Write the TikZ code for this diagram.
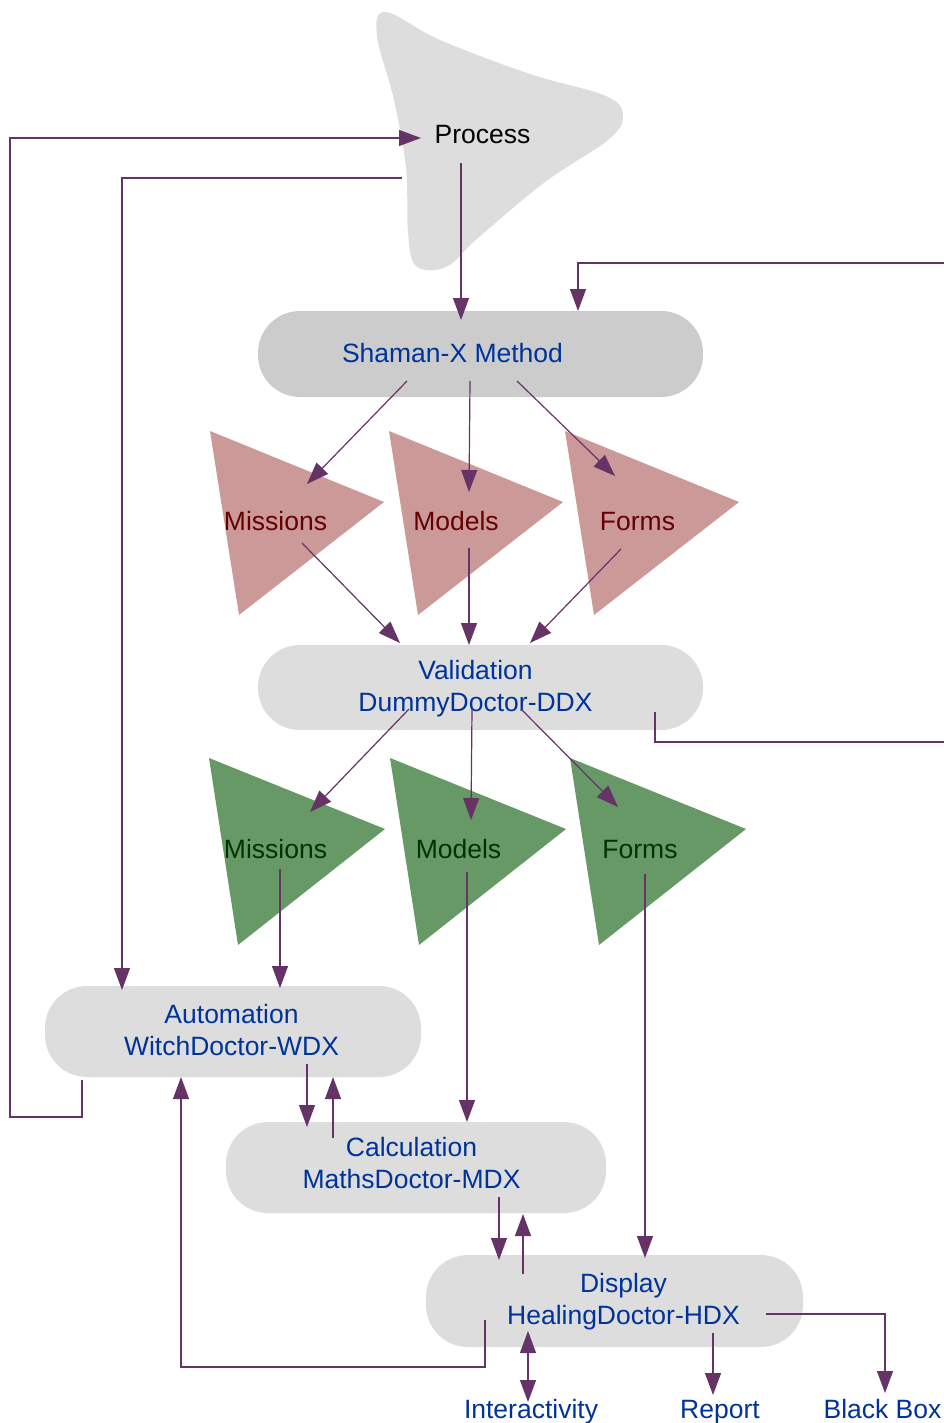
\documentclass[tikz,border=0pt]{standalone}
\usepackage{fontspec}
\setmainfont{Liberation Sans}
\usepackage{xcolor}
\usetikzlibrary{arrows.meta}

\definecolor{linkpurple}{HTML}{663366}
\definecolor{navytext}{HTML}{003399}
\definecolor{pinkfill}{HTML}{CC9999}
\definecolor{redtext}{HTML}{660000}
\definecolor{greenfill}{HTML}{669966}
\definecolor{greentext}{HTML}{003300}
\definecolor{pillgray}{HTML}{DDDDDD}
\definecolor{pilldark}{HTML}{CCCCCC}

\begin{document}
\begin{tikzpicture}[x=1pt, y=-1pt,
    pill/.style={rectangle, rounded corners=42pt, fill=pillgray, inner sep=0pt},
    lbl/.style={font=\fontsize{26.5}{32}\selectfont, text=navytext, align=center, inner sep=0pt},
    arrow/.style={draw=linkpurple, line width=1.2pt, -{Triangle[length=22pt, width=16pt]}},
    twoway/.style={arrow, {Triangle[length=22pt, width=16pt]}-{Triangle[length=22pt, width=16pt]}}]

    \useasboundingbox (0,0) rectangle (944,1423);
    \clip (0,0) rectangle (944,1423);

    % process blob
    \fill[pillgray] plot[smooth cycle, tension=0.6] coordinates {(386,12) (440,40) (530,74) (606,96) (623,116) (608,140) (545,182) (478,238) (446,267) (416,266) (408,232) (406,168) (394,100) (377,36)};
    \node[lbl, text=black, anchor=base] (process) at (482.5,144) {Process};

    % pills
    \node[pill, fill=pilldark, minimum width=445pt, minimum height=86pt] (shaman) at (480.5,354) {};
    \node[pill, minimum width=445pt, minimum height=85pt] (valid) at (480.5,687.5) {};
    \node[pill, minimum width=376pt, minimum height=91pt] (auto) at (233,1031.5) {};
    \node[pill, minimum width=380pt, minimum height=91pt] (calc) at (416,1167.5) {};
    \node[pill, minimum width=377pt, minimum height=92pt] (disp) at (614.5,1301) {};

    \node[lbl, anchor=base] (shamantxt) at (452.5,362) {Shaman-X Method};
    \node[lbl] (validtxt) at (475.5,689) {Validation\\DummyDoctor-DDX};
    \node[lbl] (autotxt) at (231.5,1030.5) {Automation\\WitchDoctor-WDX};
    \node[lbl] (calctxt) at (411.5,1163.5) {Calculation\\MathsDoctor-MDX};
    \node[lbl] (disptxt) at (623.5,1302) {Display\\HealingDoctor-HDX};

    % triangles
    \foreach \dx in {0,179,355}
        \fill[pinkfill] (210+\dx,431) -- (384+\dx,502) -- (239+\dx,615) -- cycle;
    \foreach \dx in {0,181,361}
        \fill[greenfill] (209+\dx,758) -- (385+\dx,829) -- (238+\dx,945) -- cycle;

    \node[lbl, text=redtext, anchor=base] (pinkmis) at (275.5,530) {Missions};
    \node[lbl, text=redtext, anchor=base] (pinkmod) at (456,530) {Models};
    \node[lbl, text=redtext, anchor=base] (pinkform) at (637.5,530) {Forms};
    \node[lbl, text=greentext, anchor=base] (greenmis) at (275.5,858) {Missions};
    \node[lbl, text=greentext, anchor=base] (greenmod) at (458.5,858) {Models};
    \node[lbl, text=greentext, anchor=base] (greenform) at (640,858) {Forms};

    \node[lbl, anchor=base] (inter) at (531,1418) {Interactivity};
    \node[lbl, anchor=base] (report) at (720,1418) {Report};
    \node[lbl, anchor=base] (blackbox) at (882.5,1418) {Black Box};

    % connector ends
    \coordinate (procin) at (421,138);
    \coordinate (procout) at (461,163);
    \coordinate (procleft) at (402,178);
    \coordinate (shamanin) at (461,320);
    \coordinate (shamanin2) at (578,311);
    \coordinate (shamanout1) at (407,381);
    \coordinate (shamanout2) at (470,381);
    \coordinate (shamanout3) at (517,381);
    \coordinate (pinkin1) at (307,484);
    \coordinate (pinkin2) at (469,492);
    \coordinate (pinkin3) at (615,476);
    \coordinate (pinkout1) at (302,543);
    \coordinate (pinkout2) at (469,548);
    \coordinate (pinkout3) at (621,549);
    \coordinate (validin1) at (400,643);
    \coordinate (validin2) at (469,645);
    \coordinate (validin3) at (530,643);
    \coordinate (validout1) at (409,709);
    \coordinate (validout2) at (472,709);
    \coordinate (validout3) at (521,709);
    \coordinate (validback) at (655,712);
    \coordinate (greenin1) at (310,812);
    \coordinate (greenin2) at (471,820);
    \coordinate (greenin3) at (618,807);
    \coordinate (greenout1) at (280,869);
    \coordinate (greenout2) at (467,872);
    \coordinate (greenout3) at (645,874);
    \coordinate (autoin1) at (122,990);
    \coordinate (autoin2) at (280,988);
    \coordinate (autoin3) at (181,1077);
    \coordinate (autoin4) at (333,1077);
    \coordinate (autoout1) at (82,1080);
    \coordinate (autoout2) at (307,1064);
    \coordinate (calcin1) at (467,1122);
    \coordinate (calcin2) at (307,1127);
    \coordinate (calcin3) at (523,1214);
    \coordinate (calcout1) at (333,1138);
    \coordinate (calcout2) at (499,1197);
    \coordinate (dispin1) at (645,1258);
    \coordinate (dispin2) at (499,1260);
    \coordinate (dispout1) at (523,1274);
    \coordinate (dispout2) at (485,1320);
    \coordinate (dispout3) at (713,1333);
    \coordinate (dispout4) at (766,1314);
    \coordinate (dispio) at (528,1331);
    \coordinate (interin) at (528,1402);
    \coordinate (reportin) at (713,1395);
    \coordinate (blackin) at (885,1393);

    % connectors
    \draw[arrow] (autoout1) |- (10,1117) |- (procin);
    \draw[arrow] (procleft) -| (autoin1);
    \draw[arrow] (procout) -- (shamanin);
    \draw[arrow] (validback) |- (960,742) -- (960,263) -| (shamanin2);

    \draw[arrow] (shamanout1) -- (pinkin1);
    \draw[arrow] (shamanout2) -- (pinkin2);
    \draw[arrow] (shamanout3) -- (pinkin3);
    \draw[arrow] (pinkout1) -- (validin1);
    \draw[arrow] (pinkout2) -- (validin2);
    \draw[arrow] (pinkout3) -- (validin3);
    \draw[arrow] (validout1) -- (greenin1);
    \draw[arrow] (validout2) -- (greenin2);
    \draw[arrow] (validout3) -- (greenin3);
    \draw[arrow] (greenout1) -- (autoin2);
    \draw[arrow] (greenout2) -- (calcin1);
    \draw[arrow] (greenout3) -- (dispin1);

    \draw[arrow] (autoout2) -- (calcin2);
    \draw[arrow] (calcout1) -- (autoin4);
    \draw[arrow] (calcout2) -- (dispin2);
    \draw[arrow] (dispout1) -- (calcin3);
    \draw[arrow] (dispout2) |- (181,1367) -- (autoin3);
    \draw[twoway] (dispio) -- (interin);
    \draw[arrow] (dispout3) -- (reportin);
    \draw[arrow] (dispout4) -| (blackin);
\end{tikzpicture}
\end{document}
